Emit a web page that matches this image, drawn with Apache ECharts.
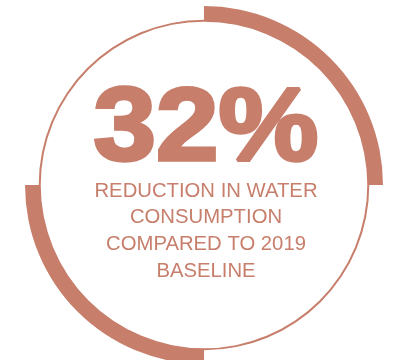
<!DOCTYPE html>
<html>
<head>
<meta charset="utf-8">
<style>
  html, body { margin: 0; padding: 0; background: #ffffff; }
  #chart { width: 398px; height: 360px; }
</style>
<script src="https://cdn.jsdelivr.net/npm/echarts@6/dist/echarts.min.js"></script>
</head>
<body>
<div id="chart"></div>
<script>
// Headline figure and caption lines
const headline = '32%';
const captionLines = ['REDUCTION IN WATER', 'CONSUMPTION', 'COMPARED TO 2019', 'BASELINE'];

// Decorative ring: four equal quarters, alternating filled / empty
const ringSegments = [25, 25, 25, 25];
const ringFilled = [true, false, true, false];

const accent = '#c77e6b';
const cx = 204, cy = 185;

const chart = echarts.init(document.getElementById('chart'), null, { renderer: 'canvas' });

const captionGraphics = captionLines.map((line, i) => ({
  type: 'text',
  x: 206,
  y: 191 + i * 26.7,
  silent: true,
  style: {
    text: line,
    fill: accent,
    font: '20.3px "Liberation Sans", Arial, sans-serif',
    textAlign: 'center',
    textVerticalAlign: 'middle'
  }
}));

chart.setOption({
  animation: false,
  backgroundColor: '#ffffff',
  series: [
    {
      // thin full circle
      type: 'pie',
      center: [cx, cy],
      radius: [163.3, 165.3],
      silent: true,
      label: { show: false },
      labelLine: { show: false },
      emphasis: { disabled: true },
      itemStyle: { color: accent },
      data: [{ value: 1 }]
    },
    {
      // thick quarter arcs
      type: 'pie',
      center: [cx, cy],
      radius: [164, 179],
      startAngle: 90,
      clockwise: true,
      silent: true,
      label: { show: false },
      labelLine: { show: false },
      emphasis: { disabled: true },
      data: ringSegments.map((v, i) => ({
        value: v,
        itemStyle: { color: ringFilled[i] ? accent : 'rgba(0,0,0,0)' }
      }))
    }
  ],
  graphic: [
    {
      type: 'text',
      x: 206,
      y: 131,
      scaleX: 1.08,
      silent: true,
      style: {
        text: headline,
        fill: accent,
        stroke: accent,
        lineWidth: 3.5,
        lineJoin: 'round',
        font: 'bold 104px "Liberation Sans", Arial, sans-serif',
        textAlign: 'center',
        textVerticalAlign: 'middle'
      }
    }
  ].concat(captionGraphics)
});
</script>
</body>
</html>
